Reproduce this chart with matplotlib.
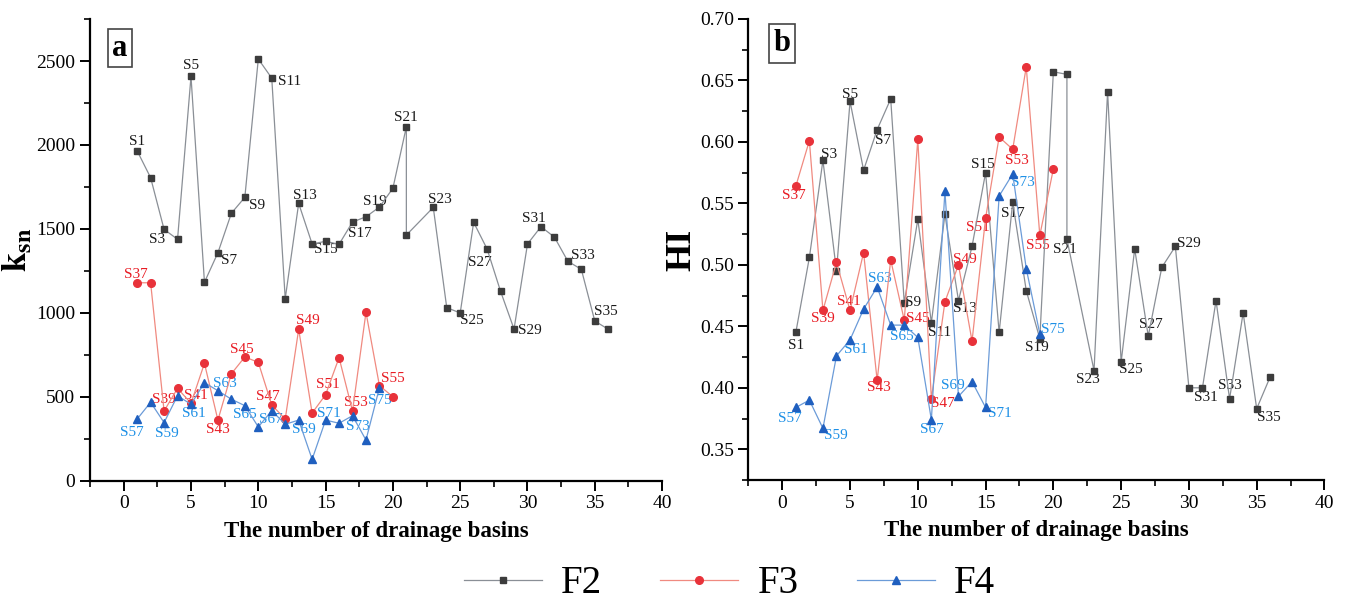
import numpy as np
import matplotlib
matplotlib.use('Agg')
import matplotlib.pyplot as plt
from matplotlib.ticker import MultipleLocator

plt.rcParams['font.family'] = ['Liberation Serif', 'DejaVu Serif']
plt.rcParams['mathtext.fontset'] = 'stix'

# basin index (S22 is plotted at 21 in the source figure)
x_f2 = [1, 2, 3, 4, 5, 6, 7, 8, 9, 10, 11, 12, 13, 14, 15, 16, 17, 18, 19, 20,
        21, 21, 23, 24, 25, 26, 27, 28, 29, 30, 31, 32, 33, 34, 35, 36]
x_f3 = list(range(1, 21))
x_f4 = list(range(1, 20))

ksn_f2 = [1965, 1805, 1497, 1438, 2408, 1182, 1358, 1593, 1688, 2512, 2398, 1084,
          1652, 1410, 1426, 1408, 1541, 1572, 1630, 1742, 2108, 1463, 1628, 1031,
          999, 1539, 1380, 1128, 903, 1410, 1513, 1451, 1307, 1259, 951, 902]
ksn_f3 = [1179, 1179, 415, 550, 461, 699, 361, 637, 737, 705, 451, 367, 902, 403,
          512, 733, 415, 1003, 566, 500]
ksn_f4 = [367, 467, 346, 506, 455, 584, 536, 485, 447, 320, 417, 336, 361, 127,
          361, 342, 387, 242, 554]

hi_f2 = [0.445, 0.506, 0.585, 0.495, 0.633, 0.577, 0.610, 0.635, 0.469, 0.537,
         0.453, 0.541, 0.471, 0.515, 0.575, 0.445, 0.551, 0.479, 0.440, 0.657,
         0.655, 0.521, 0.414, 0.641, 0.421, 0.513, 0.442, 0.498, 0.515, 0.400,
         0.400, 0.471, 0.391, 0.461, 0.383, 0.409]
hi_f3 = [0.564, 0.601, 0.463, 0.502, 0.463, 0.510, 0.406, 0.504, 0.455, 0.602,
         0.391, 0.470, 0.500, 0.438, 0.538, 0.604, 0.594, 0.661, 0.524, 0.578]
hi_f4 = [0.384, 0.390, 0.367, 0.426, 0.439, 0.464, 0.482, 0.451, 0.451, 0.441,
         0.374, 0.560, 0.393, 0.405, 0.384, 0.556, 0.574, 0.497, 0.444]

# labelled points: index into series -> basin name
lab_f2 = {0: 'S1', 2: 'S3', 4: 'S5', 6: 'S7', 8: 'S9', 10: 'S11', 12: 'S13',
          14: 'S15', 16: 'S17', 18: 'S19', 20: 'S21', 22: 'S23', 24: 'S25',
          26: 'S27', 28: 'S29', 30: 'S31', 32: 'S33', 34: 'S35'}
lab_f2_b = dict(lab_f2)
lab_f2_b.pop(20)
lab_f2_b[21] = 'S21'
lab_f3 = {0: 'S37', 2: 'S39', 4: 'S41', 6: 'S43', 8: 'S45', 10: 'S47',
          12: 'S49', 14: 'S51', 16: 'S53', 18: 'S55'}
lab_f4 = {0: 'S57', 2: 'S59', 4: 'S61', 6: 'S63', 8: 'S65', 10: 'S67',
          12: 'S69', 14: 'S71', 16: 'S73', 18: 'S75'}

# label offsets in pixels
off_a_f2 = {'S1': (0, 9), 'S3': (-7, -10), 'S5': (0, 11), 'S7': (11, -8),
            'S9': (12, -8), 'S11': (18, -3), 'S13': (6, 8), 'S15': (0, -8),
            'S17': (7, -11), 'S19': (-5, 6), 'S21': (0, 9), 'S23': (7, 8),
            'S25': (12, -8), 'S27': (-7, -13), 'S29': (16, -1), 'S31': (-7, 8),
            'S33': (15, 6), 'S35': (11, 10)}
off_a_f3 = {'S37': (-1, 8), 'S39': (0, 12), 'S41': (5, 8), 'S43': (0, -9),
            'S45': (-3, 7), 'S47': (-4, 8), 'S49': (9, 9), 'S51': (2, 10),
            'S53': (3, 9), 'S55': (13, 7)}
off_a_f4 = {'S57': (-5, -13), 'S59': (3, -11), 'S61': (3, -9), 'S63': (7, 7),
            'S65': (0, -9), 'S67': (-1, -9), 'S69': (5, -9), 'S71': (3, 7),
            'S73': (5, -11), 'S75': (0, -13)}
off_b_f2 = {'S1': (0, -13), 'S3': (6, 6), 'S5': (0, 7), 'S7': (6, -11),
            'S9': (9, 0), 'S11': (8, -10), 'S13': (6, -8), 'S15': (-3, 8),
            'S17': (0, -11), 'S19': (-3, -9), 'S21': (-2, -10), 'S23': (-6, -9),
            'S25': (10, -8), 'S27': (3, 12), 'S29': (14, 3), 'S31': (3, -10),
            'S33': (0, 13), 'S35': (12, -9)}
off_b_f3 = {'S37': (-2, -9), 'S39': (0, -8), 'S41': (-1, 9), 'S43': (2, -7),
            'S45': (14, 2), 'S47': (12, -5), 'S49': (6, 5), 'S51': (-8, -9),
            'S53': (4, -11), 'S55': (-2, -10)}
off_b_f4 = {'S57': (-6, -11), 'S59': (13, -7), 'S61': (6, -10), 'S63': (3, 8),
            'S65': (-2, -11), 'S67': (1, -10), 'S69': (-6, 11), 'S71': (14, -6),
            'S73': (10, -9), 'S75': (13, 4)}

c_f2_line, c_f2_mk, c_f2_txt = '#8a8f96', '#3c3c3c', '#1a1a1a'
c_f3_line, c_f3_mk, c_f3_txt = '#f08a80', '#e8323a', '#e81c24'
c_f4_line, c_f4_mk, c_f4_txt = '#6b9bd8', '#1f5fbf', '#1e90e6'

fig = plt.figure(figsize=(13.46, 6.05), dpi=100)
ax1 = fig.add_axes([0.0669, 0.2055, 0.425, 0.763])
ax2 = fig.add_axes([0.556, 0.2066, 0.428, 0.762])


def draw(ax, xs, ys, lc, mc, marker, ms, labels, offs, tc):
    line, = ax.plot(xs, ys, color=lc, lw=0.9, marker=marker, ms=ms,
                    mfc=mc, mec=mc, zorder=3)
    for i, name in labels.items():
        dx, dy = offs[name]
        ax.annotate(name, (xs[i], ys[i]), xytext=(dx, dy),
                    textcoords='offset pixels', ha='center', va='center',
                    fontsize=11, color=tc, zorder=2)
    return line


l2 = draw(ax1, x_f2, ksn_f2, c_f2_line, c_f2_mk, 's', 5, lab_f2, off_a_f2, c_f2_txt)
l3 = draw(ax1, x_f3, ksn_f3, c_f3_line, c_f3_mk, 'o', 5.5, lab_f3, off_a_f3, c_f3_txt)
l4 = draw(ax1, x_f4, ksn_f4, c_f4_line, c_f4_mk, '^', 6, lab_f4, off_a_f4, c_f4_txt)

draw(ax2, x_f2, hi_f2, c_f2_line, c_f2_mk, 's', 5, lab_f2_b, off_b_f2, c_f2_txt)
draw(ax2, x_f3, hi_f3, c_f3_line, c_f3_mk, 'o', 5.5, lab_f3, off_b_f3, c_f3_txt)
draw(ax2, x_f4, hi_f4, c_f4_line, c_f4_mk, '^', 6, lab_f4, off_b_f4, c_f4_txt)

ax1.set_xlim(-2.5, 40)
ax1.set_ylim(0, 2750)
ax1.yaxis.set_major_locator(MultipleLocator(500))
ax1.yaxis.set_minor_locator(MultipleLocator(250))
ax2.set_xlim(-2.5, 40)
ax2.set_ylim(0.325, 0.70)
ax2.yaxis.set_major_locator(MultipleLocator(0.05))
ax2.yaxis.set_minor_locator(MultipleLocator(0.025))
ax2.yaxis.set_major_formatter(plt.FuncFormatter(lambda v, p: '%.2f' % v))

for ax in (ax1, ax2):
    ax.xaxis.set_major_locator(MultipleLocator(5))
    ax.xaxis.set_minor_locator(MultipleLocator(2.5))
    for s in ('top', 'right'):
        ax.spines[s].set_visible(False)
    for s in ('left', 'bottom'):
        ax.spines[s].set_linewidth(1.6)
    ax.tick_params(which='major', length=7, width=1.4, labelsize=14, direction='out')
    ax.tick_params(which='minor', length=4, width=1.2, direction='out')
    ax.set_xlabel('The number of drainage basins', fontsize=16.5, fontweight='bold',
                  labelpad=6)

ax1.set_ylabel(r'$\mathbf{k_{sn}}$', fontsize=25, labelpad=2)
ax2.set_ylabel('HI', fontsize=26, fontweight='bold', labelpad=1)

box = dict(boxstyle='square,pad=0.15', fc='white', ec='#444444', lw=1.2)
ax1.text(0.052, 0.937, 'a', transform=ax1.transAxes, fontsize=22,
         fontweight='bold', ha='center', va='center', bbox=box)
ax2.text(0.058, 0.947, 'b', transform=ax2.transAxes, fontsize=22,
         fontweight='bold', ha='center', va='center', bbox=box)

fig.legend([l2, l3, l4], ['F2', 'F3', 'F4'], loc='center', ncol=3,
           bbox_to_anchor=(0.542, 0.035), frameon=False, fontsize=28,
           handlelength=2.0, handletextpad=0.5, columnspacing=1.5)

fig.savefig('out.png', dpi=100, facecolor='white')
